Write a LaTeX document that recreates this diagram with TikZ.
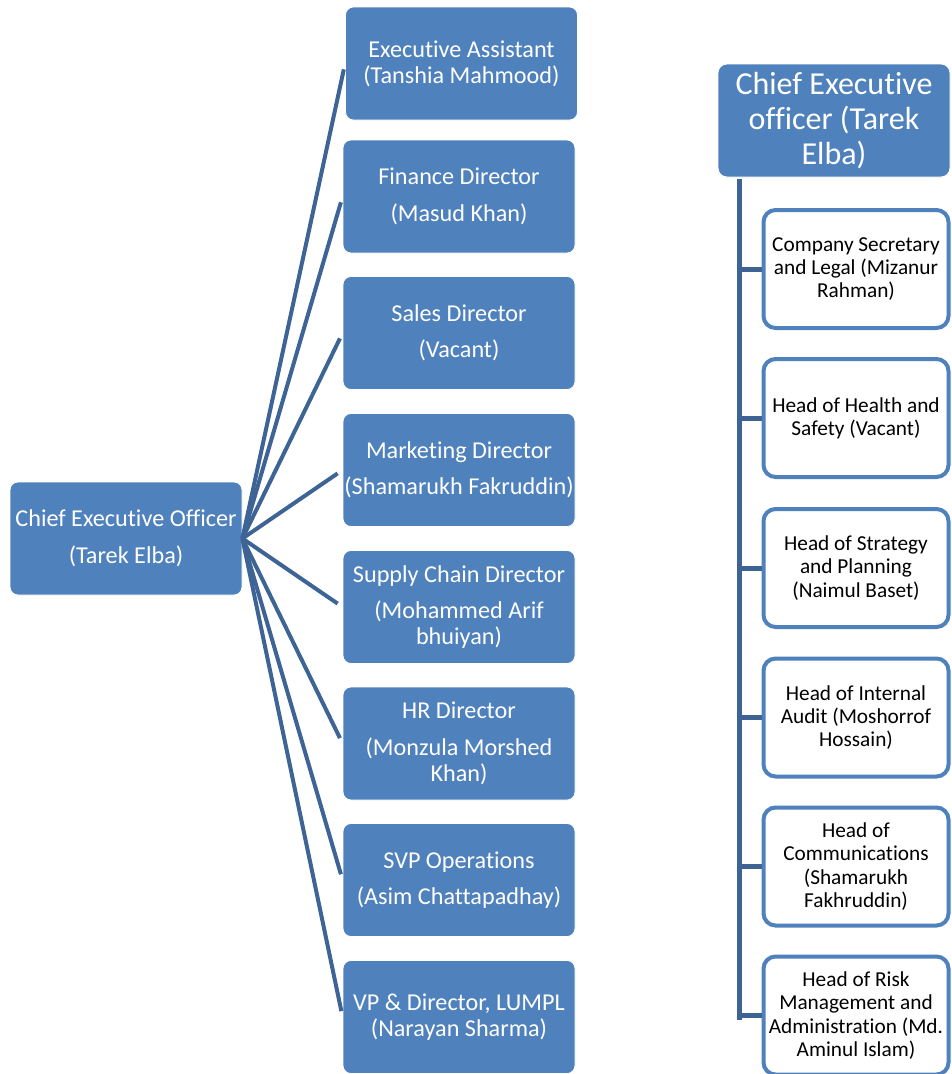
\documentclass[tikz,border=0pt]{standalone}
\usepackage{fontspec}
\setmainfont{Carlito}[Ligatures=NoCommon]
\definecolor{boxblue}{RGB}{79,129,189}
\definecolor{lineblue}{RGB}{62,100,150}
\begin{document}
\begin{tikzpicture}[x=1pt,y=-1pt,
  lbox/.style={rectangle, rounded corners=8pt, fill=boxblue, draw=white, line width=0.8pt,
    text=white, align=center, minimum width=232pt, minimum height=113pt, inner sep=0pt,
    font=\fontsize{24.2}{26}\selectfont},
  topbox/.style={rectangle, rounded corners=9pt, fill=boxblue, draw=white, line width=0.8pt,
    text=white, align=center, minimum width=232pt, minimum height=113pt, inner sep=0pt,
    font=\fontsize{32}{35}\selectfont},
  cbox/.style={rectangle, rounded corners=12pt, fill=white, draw=boxblue, line width=4pt,
    text=black, align=center, minimum width=185pt, minimum height=118pt, inner sep=0pt,
    font=\fontsize{21.3}{23.2}\selectfont},
  fan/.style={draw=lineblue, line width=4pt, shorten >=6pt},
  tree/.style={draw=lineblue, line width=5pt}
]
\useasboundingbox (0,0) rectangle (951,1074);

% left chart
\node[lbox] (ceo) at (126,538.5) {Chief Executive Officer\\[10.5pt](Tarek Elba)};
\node[lbox] (ea) at (461.5,63.5) {Executive Assistant\\(Tanshia Mahmood)};
\node[lbox] (fin) at (459,196.5) {Finance Director\\[10.5pt](Masud Khan)};
\node[lbox] (sal) at (459,333) {Sales Director\\[10.5pt](Vacant)};
\node[lbox] (mkt) at (459,470) {Marketing Director\\[10.5pt](Shamarukh Fakruddin)};
\node[lbox] (scm) at (459,607) {Supply Chain Director\\[10.5pt](Mohammed Arif\\bhuiyan)};
\node[lbox] (hr) at (459,743.5) {HR Director\\[10.5pt](Monzula Morshed\\Khan)};
\node[lbox] (svp) at (459,880) {SVP Operations\\[10.5pt](Asim Chattapadhay)};
\node[lbox] (vp) at (459,1017) {VP \& Director, LUMPL\\(Narayan Sharma)};

\foreach \n in {ea,fin,sal,mkt,scm,hr,svp,vp}
  \draw[fan] (ceo.east) -- (\n.west);

% right chart
\node[topbox] (top) at (834,120.5) {Chief Executive\\officer (Tarek\\Elba)};
\node[cbox] (c1) at (856,269) {Company Secretary\\and Legal (Mizanur\\Rahman)};
\node[cbox] (c2) at (856,418) {Head of Health and\\Safety (Vacant)};
\node[cbox] (c3) at (856,568) {Head of Strategy\\and Planning\\(Naimul Baset)};
\node[cbox] (c4) at (856,717.5) {Head of Internal\\Audit (Moshorrof\\Hossain)};
\node[cbox] (c5) at (856,866.5) {Head of\\Communications\\(Shamarukh\\Fakhruddin)};
\node[cbox] (c6) at (856,1015.5) {Head of Risk\\Management and\\Administration (Md.\\Aminul Islam)};

\coordinate (t0) at (739,179);
\coordinate (t1) at (739,1019.5);
\draw[tree] (t0) -- (t1);
\foreach \n in {c1,c2,c3,c4,c5,c6}
  \draw[tree] (t0 |- \n.west) -- (\n.west);
\end{tikzpicture}
\end{document}
